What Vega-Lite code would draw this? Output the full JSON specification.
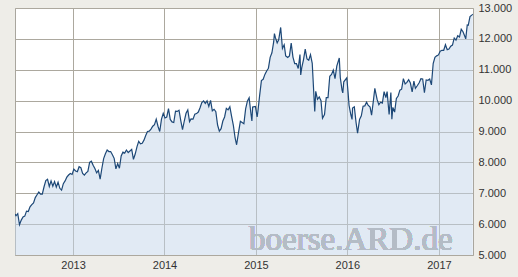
{
"$schema":"https://vega.github.io/schema/vega-lite/v6.json",
"width":458,"height":247,
"autosize":{"type":"none"},
"padding":{"left":15,"top":8,"right":45,"bottom":22},
"background":"#eeede8",
"config":{"view":{"fill":"white","stroke":"#a9a69e","strokeWidth":1},"font":"Liberation Sans"},
"data":{"values":[
{"d":"2012-05-14","v":6330},{"d":"2012-05-18","v":6270},{"d":"2012-05-25","v":6340},{"d":"2012-06-01","v":5980},{"d":"2012-06-08","v":6130},{"d":"2012-06-15","v":6230},{"d":"2012-06-22","v":6260},{"d":"2012-06-29","v":6420},{"d":"2012-07-06","v":6410},{"d":"2012-07-13","v":6560},{"d":"2012-07-20","v":6630},{"d":"2012-07-27","v":6690},{"d":"2012-08-03","v":6860},{"d":"2012-08-10","v":6950},{"d":"2012-08-17","v":7040},{"d":"2012-08-24","v":6970},{"d":"2012-08-31","v":6970},{"d":"2012-09-07","v":7210},{"d":"2012-09-14","v":7410},{"d":"2012-09-21","v":7450},{"d":"2012-09-28","v":7220},{"d":"2012-10-05","v":7400},{"d":"2012-10-12","v":7230},{"d":"2012-10-19","v":7380},{"d":"2012-10-26","v":7200},{"d":"2012-11-02","v":7360},{"d":"2012-11-09","v":7160},{"d":"2012-11-16","v":7100},{"d":"2012-11-23","v":7310},{"d":"2012-11-30","v":7400},{"d":"2012-12-07","v":7520},{"d":"2012-12-14","v":7590},{"d":"2012-12-21","v":7640},{"d":"2012-12-28","v":7610},
{"d":"2013-01-04","v":7780},{"d":"2013-01-11","v":7720},{"d":"2013-01-18","v":7700},{"d":"2013-01-25","v":7860},{"d":"2013-02-01","v":7830},{"d":"2013-02-08","v":7640},{"d":"2013-02-15","v":7590},{"d":"2013-02-22","v":7660},{"d":"2013-03-01","v":7710},{"d":"2013-03-08","v":8000},{"d":"2013-03-15","v":8040},{"d":"2013-03-22","v":7910},{"d":"2013-03-29","v":7800},{"d":"2013-04-05","v":7660},{"d":"2013-04-12","v":7740},{"d":"2013-04-19","v":7460},{"d":"2013-04-26","v":7810},{"d":"2013-05-03","v":8120},{"d":"2013-05-10","v":8280},{"d":"2013-05-17","v":8400},{"d":"2013-05-24","v":8350},{"d":"2013-05-31","v":8350},{"d":"2013-06-07","v":8250},{"d":"2013-06-14","v":8130},{"d":"2013-06-21","v":7790},{"d":"2013-06-28","v":7960},{"d":"2013-07-05","v":7810},{"d":"2013-07-12","v":8210},{"d":"2013-07-19","v":8330},{"d":"2013-07-26","v":8300},{"d":"2013-08-02","v":8400},{"d":"2013-08-09","v":8320},{"d":"2013-08-16","v":8370},{"d":"2013-08-23","v":8420},{"d":"2013-08-30","v":8100},{"d":"2013-09-06","v":8270},{"d":"2013-09-13","v":8500},{"d":"2013-09-20","v":8680},{"d":"2013-09-27","v":8600},{"d":"2013-10-04","v":8620},{"d":"2013-10-11","v":8720},{"d":"2013-10-18","v":8870},{"d":"2013-10-25","v":9000},{"d":"2013-11-01","v":9010},{"d":"2013-11-08","v":9080},{"d":"2013-11-15","v":9170},{"d":"2013-11-22","v":9220},{"d":"2013-11-29","v":9400},{"d":"2013-12-06","v":9170},{"d":"2013-12-13","v":9000},{"d":"2013-12-20","v":9400},{"d":"2013-12-27","v":9590},
{"d":"2014-01-03","v":9440},{"d":"2014-01-10","v":9470},{"d":"2014-01-17","v":9740},{"d":"2014-01-24","v":9390},{"d":"2014-01-31","v":9310},{"d":"2014-02-07","v":9290},{"d":"2014-02-14","v":9660},{"d":"2014-02-21","v":9650},{"d":"2014-02-28","v":9690},{"d":"2014-03-07","v":9350},{"d":"2014-03-14","v":9060},{"d":"2014-03-21","v":9340},{"d":"2014-03-28","v":9590},{"d":"2014-04-04","v":9700},{"d":"2014-04-11","v":9320},{"d":"2014-04-17","v":9410},{"d":"2014-04-25","v":9400},{"d":"2014-05-02","v":9560},{"d":"2014-05-09","v":9580},{"d":"2014-05-16","v":9630},{"d":"2014-05-23","v":9770},{"d":"2014-05-30","v":9940},{"d":"2014-06-06","v":9990},{"d":"2014-06-13","v":9910},{"d":"2014-06-20","v":9990},{"d":"2014-06-27","v":9810},{"d":"2014-07-04","v":10010},{"d":"2014-07-11","v":9670},{"d":"2014-07-18","v":9720},{"d":"2014-07-25","v":9640},{"d":"2014-08-01","v":9210},{"d":"2014-08-08","v":9010},{"d":"2014-08-15","v":9090},{"d":"2014-08-22","v":9340},{"d":"2014-08-29","v":9470},{"d":"2014-09-05","v":9750},{"d":"2014-09-12","v":9700},{"d":"2014-09-19","v":9800},{"d":"2014-09-26","v":9490},{"d":"2014-10-03","v":9200},{"d":"2014-10-10","v":8790},{"d":"2014-10-16","v":8570},{"d":"2014-10-24","v":8990},{"d":"2014-10-31","v":9330},{"d":"2014-11-07","v":9290},{"d":"2014-11-14","v":9250},{"d":"2014-11-21","v":9730},{"d":"2014-11-28","v":9980},{"d":"2014-12-05","v":10090},{"d":"2014-12-12","v":9590},{"d":"2014-12-16","v":9340},{"d":"2014-12-19","v":9790},{"d":"2014-12-30","v":9810},
{"d":"2015-01-06","v":9470},{"d":"2015-01-09","v":9650},{"d":"2015-01-16","v":10170},{"d":"2015-01-23","v":10650},{"d":"2015-01-30","v":10690},{"d":"2015-02-06","v":10850},{"d":"2015-02-13","v":10960},{"d":"2015-02-20","v":11050},{"d":"2015-02-27","v":11400},{"d":"2015-03-06","v":11550},{"d":"2015-03-13","v":11900},{"d":"2015-03-16","v":12170},{"d":"2015-03-20","v":12040},{"d":"2015-03-27","v":11870},{"d":"2015-04-02","v":11970},{"d":"2015-04-10","v":12370},{"d":"2015-04-17","v":11690},{"d":"2015-04-24","v":11810},{"d":"2015-04-30","v":11450},{"d":"2015-05-08","v":11400},{"d":"2015-05-15","v":11450},{"d":"2015-05-22","v":11860},{"d":"2015-05-29","v":11410},{"d":"2015-06-05","v":11200},{"d":"2015-06-12","v":11200},{"d":"2015-06-19","v":11040},{"d":"2015-06-26","v":11490},{"d":"2015-06-29","v":10830},{"d":"2015-07-03","v":11060},{"d":"2015-07-10","v":11320},{"d":"2015-07-17","v":11670},{"d":"2015-07-24","v":11350},{"d":"2015-07-31","v":11310},{"d":"2015-08-07","v":11490},{"d":"2015-08-14","v":11210},{"d":"2015-08-21","v":10120},{"d":"2015-08-24","v":9650},{"d":"2015-08-28","v":10300},{"d":"2015-09-04","v":10040},{"d":"2015-09-11","v":10120},{"d":"2015-09-18","v":10000},{"d":"2015-09-24","v":9430},{"d":"2015-10-02","v":9550},{"d":"2015-10-09","v":10100},{"d":"2015-10-16","v":10100},{"d":"2015-10-23","v":10790},{"d":"2015-10-30","v":10850},{"d":"2015-11-06","v":10990},{"d":"2015-11-13","v":10710},{"d":"2015-11-20","v":11120},{"d":"2015-11-30","v":11380},{"d":"2015-12-04","v":10750},{"d":"2015-12-11","v":10340},{"d":"2015-12-14","v":10250},{"d":"2015-12-18","v":10610},{"d":"2015-12-30","v":10740},
{"d":"2016-01-04","v":10280},{"d":"2016-01-08","v":9850},{"d":"2016-01-15","v":9550},{"d":"2016-01-20","v":9390},{"d":"2016-01-22","v":9760},{"d":"2016-01-29","v":9800},{"d":"2016-02-05","v":9290},{"d":"2016-02-11","v":8950},{"d":"2016-02-19","v":9390},{"d":"2016-02-26","v":9510},{"d":"2016-03-04","v":9820},{"d":"2016-03-11","v":9830},{"d":"2016-03-18","v":9950},{"d":"2016-03-24","v":9850},{"d":"2016-04-01","v":9790},{"d":"2016-04-07","v":9530},{"d":"2016-04-15","v":10050},{"d":"2016-04-20","v":10400},{"d":"2016-04-29","v":10040},{"d":"2016-05-06","v":9870},{"d":"2016-05-13","v":9950},{"d":"2016-05-20","v":9920},{"d":"2016-05-27","v":10290},{"d":"2016-06-03","v":10100},{"d":"2016-06-08","v":10290},{"d":"2016-06-16","v":9550},{"d":"2016-06-23","v":10260},{"d":"2016-06-27","v":9400},{"d":"2016-07-01","v":9780},{"d":"2016-07-08","v":9630},{"d":"2016-07-15","v":10070},{"d":"2016-07-22","v":10150},{"d":"2016-07-29","v":10340},{"d":"2016-08-05","v":10370},{"d":"2016-08-12","v":10710},{"d":"2016-08-19","v":10540},{"d":"2016-08-26","v":10590},{"d":"2016-09-02","v":10680},{"d":"2016-09-09","v":10570},{"d":"2016-09-16","v":10280},{"d":"2016-09-23","v":10630},{"d":"2016-09-29","v":10400},{"d":"2016-10-07","v":10490},{"d":"2016-10-14","v":10580},{"d":"2016-10-21","v":10710},{"d":"2016-10-28","v":10700},{"d":"2016-11-04","v":10260},{"d":"2016-11-11","v":10670},{"d":"2016-11-18","v":10660},{"d":"2016-11-25","v":10700},{"d":"2016-12-02","v":10510},{"d":"2016-12-09","v":11200},{"d":"2016-12-16","v":11400},{"d":"2016-12-23","v":11450},{"d":"2016-12-30","v":11480},
{"d":"2017-01-06","v":11600},{"d":"2017-01-13","v":11630},{"d":"2017-01-20","v":11630},{"d":"2017-01-27","v":11810},{"d":"2017-02-03","v":11650},{"d":"2017-02-10","v":11670},{"d":"2017-02-17","v":11760},{"d":"2017-02-24","v":11800},{"d":"2017-03-03","v":12030},{"d":"2017-03-10","v":11960},{"d":"2017-03-17","v":12100},{"d":"2017-03-24","v":12060},{"d":"2017-03-31","v":12310},{"d":"2017-04-07","v":12230},{"d":"2017-04-13","v":12110},{"d":"2017-04-18","v":12000},{"d":"2017-04-24","v":12450},{"d":"2017-04-28","v":12440},{"d":"2017-05-05","v":12720},{"d":"2017-05-12","v":12770},{"d":"2017-05-16","v":12800}
]},
"encoding":{
"x":{"field":"d","type":"temporal","scale":{"domain":["2012-05-14","2017-05-17"]},
 "axis":{"title":null,"values":[{"year":2013,"month":1,"date":1},{"year":2014,"month":1,"date":1},{"year":2015,"month":1,"date":1},{"year":2016,"month":1,"date":1},{"year":2017,"month":1,"date":1}],"format":"%Y","grid":true,"gridColor":"#aca89e","gridOpacity":1,"ticks":false,"domain":false,"labelPadding":4,"labelFontSize":11,"labelColor":"#333333","labelFont":"Liberation Sans"}},
"y":{"field":"v","type":"quantitative","scale":{"domain":[5000,13000],"nice":false,"zero":false},
 "axis":{"title":null,"orient":"right","values":[5000,6000,7000,8000,9000,10000,11000,12000,13000],"labelExpr":"replace(format(datum.value, ',.0f'), ',', '.')","grid":true,"gridColor":"#aca89e","gridOpacity":1,"ticks":false,"domain":false,"labelPadding":5,"labelFontSize":11,"labelColor":"#333333","labelFont":"Liberation Sans"}}
},
"layer":[
{"mark":{"type":"area","color":"#c4d6ea","fillOpacity":0.5,"clip":true},"encoding":{"y2":{"datum":5000}}},
{"mark":{"type":"text","text":"boerse.ARD.de","font":"Liberation Serif","fontSize":33,"fill":"#b4bcc6","opacity":0.45,"align":"center","baseline":"alphabetic"},
 "encoding":{"x":{"datum":{"year":2016,"month":1,"date":15}},"y":{"datum":5160}}},
{"mark":{"type":"line","color":"#1d4877","strokeWidth":1.2,"clip":true},"encoding":{}}
]
}
